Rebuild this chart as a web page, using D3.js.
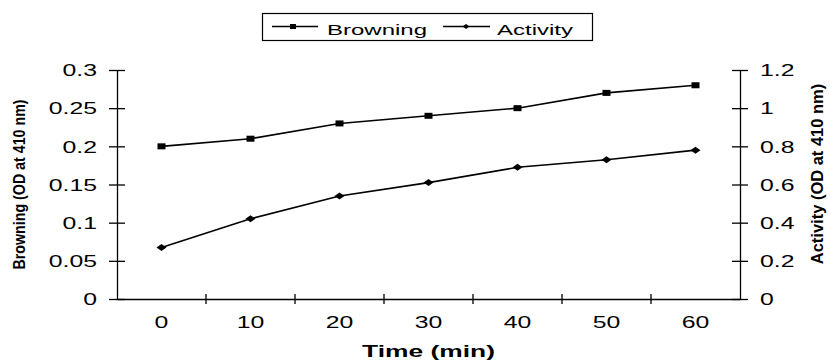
<!DOCTYPE html>
<html>
<head>
<meta charset="utf-8">
<script src="https://cdn.jsdelivr.net/npm/d3@7"></script>
<style>
  body { margin: 0; background: #fff; }
  svg { display: block; font-family: Arial, "Liberation Sans", sans-serif; }
</style>
</head>
<body>
<svg id="chart" width="830" height="361"></svg>
<script>
// data
const times = [0, 10, 20, 30, 40, 50, 60];
const browning = [0.20, 0.21, 0.23, 0.24, 0.25, 0.27, 0.28];
const activity = [0.27, 0.42, 0.54, 0.61, 0.69, 0.73, 0.78];
const leftTicks = [0, 0.05, 0.1, 0.15, 0.2, 0.25, 0.3];
const rightTicks = [0, 0.2, 0.4, 0.6, 0.8, 1, 1.2];

const svg = d3.select("#chart");
const plotL = 117, plotR = 740, plotT = 70, plotB = 299;
const sx = 1.55; // text in the original is stretched sideways

const x = d3.scaleBand().domain(times).range([plotL, plotR]).padding(0);
const yL = d3.scaleLinear().domain([0, 0.3]).range([plotB, plotT]);
const yR = d3.scaleLinear().domain([0, 1.2]).range([plotB, plotT]);

const fmt = d => d === 0 ? "0" : String(d);

// left axis
const gL = svg.append("g").attr("transform", `translate(${plotL},0)`)
  .call(d3.axisLeft(yL).tickValues(leftTicks).tickSize(0).tickFormat(fmt));
gL.select(".domain").attr("stroke", "#000").attr("stroke-width", 1.3);
gL.selectAll(".tick").append("line").attr("x1", -8).attr("x2", 8).attr("stroke", "#000").attr("stroke-width", 1.3);
gL.selectAll(".tick text")
  .attr("x", -20 / sx).attr("dy", "0.36em")
  .attr("transform", `scale(${sx},1)`)
  .style("font-size", "16px").attr("fill", "#000");

// right axis
const gR = svg.append("g").attr("transform", `translate(${plotR},0)`)
  .call(d3.axisRight(yR).tickValues(rightTicks).tickSize(0).tickFormat(fmt));
gR.select(".domain").attr("stroke", "#000").attr("stroke-width", 1.3);
gR.selectAll(".tick").append("line").attr("x1", -8).attr("x2", 8).attr("stroke", "#000").attr("stroke-width", 1.3);
gR.selectAll(".tick text")
  .attr("x", 20 / sx).attr("dy", "0.36em")
  .attr("transform", `scale(${sx},1)`)
  .style("font-size", "16px").attr("fill", "#000");

// bottom axis (category axis, ticks between categories)
const gB = svg.append("g").attr("transform", `translate(0,${plotB})`)
  .call(d3.axisBottom(x).tickSize(0));
gB.select(".domain").attr("stroke", "#000").attr("stroke-width", 1.3);
gB.selectAll(".tick text")
  .attr("y", 29).attr("dy", null).attr("x", 0)
  .attr("transform", `scale(${sx},1)`)
  .style("font-size", "16px").attr("fill", "#000");
gB.selectAll("line.sep")
  .data(times.slice(1))
  .join("line")
  .attr("class", "sep")
  .attr("x1", d => x(d)).attr("x2", d => x(d))
  .attr("y1", -5).attr("y2", 5)
  .attr("stroke", "#000").attr("stroke-width", 1.3);

// series
const cxOf = i => x(times[i]) + x.bandwidth() / 2;
const lineB = d3.line().x((d, i) => cxOf(i)).y(d => yL(d));
const lineA = d3.line().x((d, i) => cxOf(i)).y(d => yR(d));

svg.append("path").datum(browning).attr("d", lineB)
  .attr("fill", "none").attr("stroke", "#000").attr("stroke-width", 1.6);
svg.append("path").datum(activity).attr("d", lineA)
  .attr("fill", "none").attr("stroke", "#000").attr("stroke-width", 1.6);

svg.append("g").selectAll("rect").data(browning).join("rect")
  .attr("x", (d, i) => cxOf(i) - 4)
  .attr("y", d => yL(d) - 3)
  .attr("width", 8).attr("height", 6).attr("fill", "#000");

const diamond = (cx, cy, w, h) => `M${cx - w / 2},${cy}L${cx},${cy - h / 2}L${cx + w / 2},${cy}L${cx},${cy + h / 2}Z`;
svg.append("g").selectAll("path").data(activity).join("path")
  .attr("d", (d, i) => diamond(cxOf(i), yR(d), 10, 7))
  .attr("fill", "#000");

// axis titles
svg.append("text")
  .attr("transform", `translate(${(plotL + plotR) / 2},357) scale(1.65,1)`)
  .attr("text-anchor", "middle")
  .style("font-size", "16px").style("font-weight", "bold")
  .text("Time (min)");

svg.append("text")
  .attr("transform", `translate(25,${(plotT + plotB) / 2}) rotate(-90) scale(0.95,1.15)`)
  .attr("text-anchor", "middle")
  .style("font-size", "15px").style("font-weight", "bold")
  .text("Browning (OD at 410 nm)");

svg.append("text")
  .attr("transform", `translate(823,174) rotate(-90) scale(1.1,1.15)`)
  .attr("text-anchor", "middle")
  .style("font-size", "15px").style("font-weight", "bold")
  .text("Activity (OD at 410 nm)");

// legend
const lg = svg.append("g");
lg.append("rect").attr("x", 262.5).attr("y", 13.5).attr("width", 330).attr("height", 27)
  .attr("fill", "#fff").attr("stroke", "#000").attr("stroke-width", 1.2);
lg.append("line").attr("x1", 272).attr("x2", 318).attr("y1", 26.5).attr("y2", 26.5)
  .attr("stroke", "#000").attr("stroke-width", 1.4);
lg.append("rect").attr("x", 290).attr("y", 24).attr("width", 6).attr("height", 5).attr("fill", "#000");
lg.append("text").attr("transform", `translate(327,35) scale(1.6,1)`)
  .style("font-size", "15px").text("Browning");
lg.append("line").attr("x1", 443).attr("x2", 490).attr("y1", 26.5).attr("y2", 26.5)
  .attr("stroke", "#000").attr("stroke-width", 1.4);
lg.append("path").attr("d", diamond(466, 26.5, 7, 5)).attr("fill", "#000");
lg.append("text").attr("transform", `translate(497,35) scale(1.6,1)`)
  .style("font-size", "15px").text("Activity");
</script>
</body>
</html>
